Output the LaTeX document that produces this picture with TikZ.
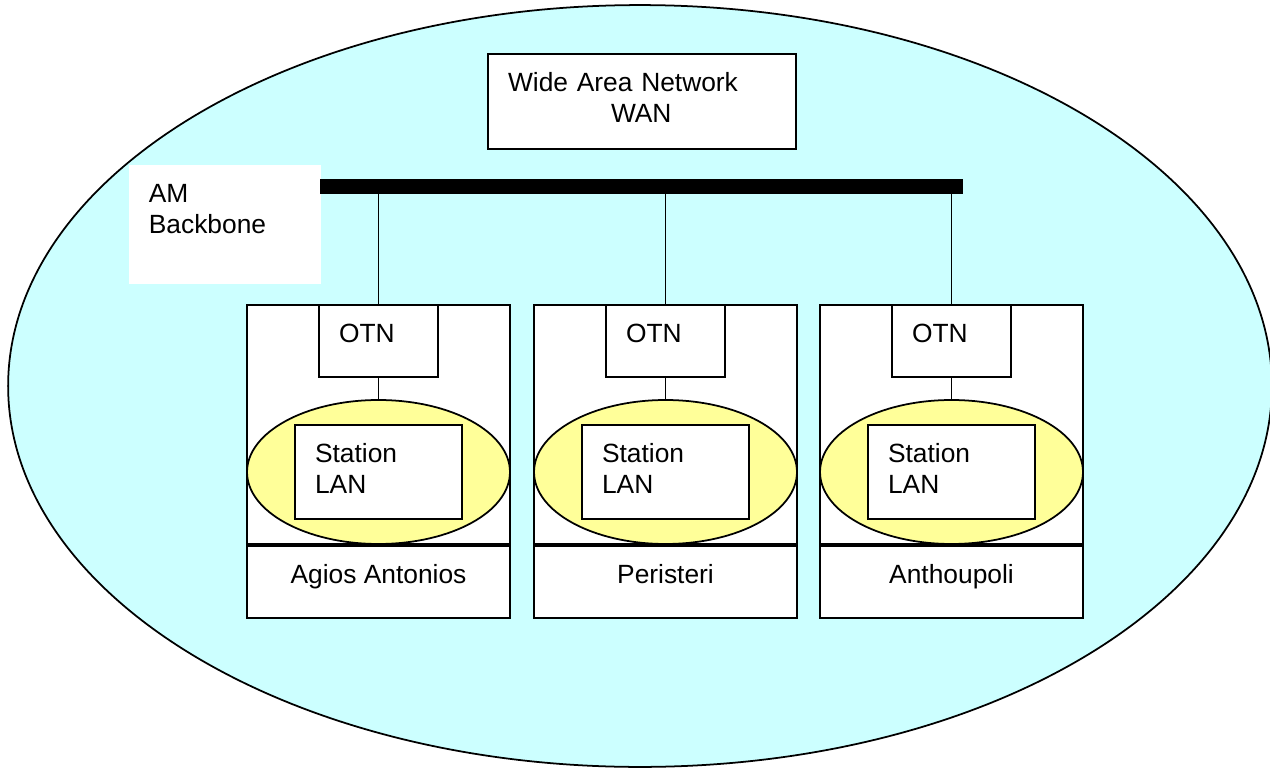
\documentclass[tikz,border=0pt]{standalone}
\usepackage{fontspec}
\setmainfont{Liberation Sans}
\usetikzlibrary{positioning,shapes.geometric}
\definecolor{wanblue}{HTML}{CCFFFF}
\definecolor{lanyellow}{HTML}{FFFF99}

\begin{document}
\begin{tikzpicture}[x=0.02cm,y=-0.02cm,line width=1pt,font=\fontsize{15}{17.6}\selectfont,
                    box node/.style={draw,fill=white,inner xsep=0.4cm,inner ysep=0pt,align=left,text height=0.75cm},
                    site node/.style={draw,fill=white,minimum width=5.26cm,minimum height=4.78cm,inner sep=0pt},
                    name node/.style={draw,fill=white,minimum width=5.26cm,inner sep=0pt,text height=0.76cm,text depth=0.68cm},
                    otn node/.style={box node,text width=1.58cm,text depth=0.69cm},
                    lan node/.style={box node,text width=2.54cm,text depth=1.14cm},
                    ring node/.style={ellipse,draw,fill=lanyellow,minimum width=5.26cm,minimum height=2.88cm,inner sep=0pt}]
\useasboundingbox (0,0) rectangle (1270,767);
\clip (0,0) rectangle (1270,767);
\draw[fill=wanblue] (640,386) ellipse [x radius=12.64cm,y radius=7.62cm];

\node[box node,anchor=north,text width=5.36cm,text depth=1.16cm] (wan) at (642,53) {Wide Area Network\\\hspace*{2.06cm}WAN};
\node[box node,draw=none,anchor=north west,text width=3.04cm,text depth=1.64cm] (am) at (128,164) {AM\\Backbone};

\coordinate (bbw) at (320,186);
\coordinate (bbe) at (963,186);
\draw[line width=0.3cm] (bbw) -- (bbe);

\node[site node] (site1) at (378.5,424.5) {};
\node[name node,below=0pt of site1] (name1) {Agios Antonios};
\node[otn node,below=0pt of site1.north] (otn1) {OTN};
\node[ring node,above=0pt of site1.south] (ring1) {};
\node[lan node] (lan1) at (ring1) {Station\\LAN};

\node[site node] (site2) at (665.5,424.5) {};
\node[name node,below=0pt of site2] (name2) {Peristeri};
\node[otn node,below=0pt of site2.north] (otn2) {OTN};
\node[ring node,above=0pt of site2.south] (ring2) {};
\node[lan node] (lan2) at (ring2) {Station\\LAN};

\node[site node] (site3) at (951.5,424.5) {};
\node[name node,below=0pt of site3] (name3) {Anthoupoli};
\node[otn node,below=0pt of site3.north] (otn3) {OTN};
\node[ring node,above=0pt of site3.south] (ring3) {};
\node[lan node] (lan3) at (ring3) {Station\\LAN};

\path
  (otn1) edge (ring1)
  (otn2) edge (ring2)
  (otn3) edge (ring3)
  (otn1.north) edge (otn1.north |- bbw)
  (otn2.north) edge (otn2.north |- bbw)
  (otn3.north) edge (otn3.north |- bbw);
\end{tikzpicture}
\end{document}
